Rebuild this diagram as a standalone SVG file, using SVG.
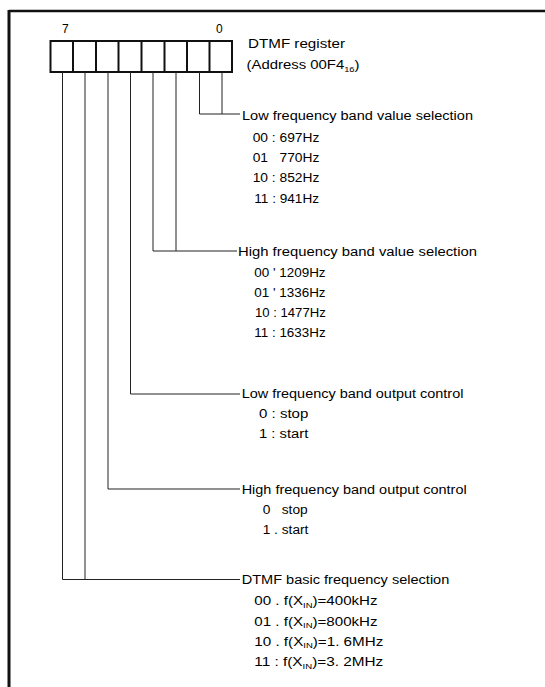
<svg xmlns="http://www.w3.org/2000/svg" width="545" height="687" viewBox="0 0 545 687">
<style>
text{font-family:"Liberation Sans",Arial,sans-serif;font-size:12px;fill:#000;white-space:pre}
.w{stroke:#222;stroke-width:1;fill:none}
.reg{stroke:#111;stroke-width:2;fill:#fff}
.sub{font-size:7.5px}
</style>
<rect width="545" height="687" fill="#fff"/>
<g id="frame">
<line x1="9" y1="11" x2="545" y2="11" stroke="#111" stroke-width="2.5"/>
<line x1="9" y1="10" x2="9" y2="687" stroke="#111" stroke-width="3"/>
</g>
<g id="register">
<rect class="reg" x="50.5" y="41" width="181.5" height="31"/>
<path class="reg" d="M73 41V72M96 41V72M118.5 41V72M141.5 41V72M164.5 41V72M187 41V72M209.5 41V72"/>
<text x="62" y="32.5">7</text>
<text x="216" y="32.5">0</text>
<text x="248" y="47.5" textLength="97" lengthAdjust="spacingAndGlyphs">DTMF register</text>
<text x="246.5" y="68.5" textLength="113" lengthAdjust="spacingAndGlyphs">(Address 00F4<tspan class="sub" dy="3">16</tspan><tspan dy="-3">)</tspan></text>
</g>
<g id="connectors">
<path class="w" d="M222 72V114M199.5 72V114H240"/>
<path class="w" d="M176 72V251M153 72V251H237"/>
<path class="w" d="M130.5 72V394H240"/>
<path class="w" d="M108 72V489H240"/>
<path class="w" d="M85 72V579.5M62.5 72V579.5H240"/>
</g>
<g id="low-freq-value">
<text x="242" y="120" textLength="231" lengthAdjust="spacingAndGlyphs">Low frequency band value selection</text>
<text x="252.7" y="141.5" textLength="66.7" lengthAdjust="spacingAndGlyphs">00 : 697Hz</text>
<text x="252.7" y="162" textLength="66.7" lengthAdjust="spacingAndGlyphs">01   770Hz</text>
<text x="252.7" y="182.3" textLength="66.7" lengthAdjust="spacingAndGlyphs">10 : 852Hz</text>
<text x="254.3" y="202.7" textLength="64.7" lengthAdjust="spacingAndGlyphs">11 : 941Hz</text>
</g>
<g id="high-freq-value">
<text x="238" y="255.5" textLength="239" lengthAdjust="spacingAndGlyphs">High frequency band value selection</text>
<text x="254.3" y="277.3" textLength="71.3" lengthAdjust="spacingAndGlyphs">00 ' 1209Hz</text>
<text x="254.3" y="297.3" textLength="71.3" lengthAdjust="spacingAndGlyphs">01 ' 1336Hz</text>
<text x="255" y="316.7" textLength="70.7" lengthAdjust="spacingAndGlyphs">10 : 1477Hz</text>
<text x="254.3" y="337.3" textLength="71.3" lengthAdjust="spacingAndGlyphs">11 : 1633Hz</text>
</g>
<g id="low-freq-output">
<text x="241.7" y="398" textLength="221.7" lengthAdjust="spacingAndGlyphs">Low frequency band output control</text>
<text x="259" y="417.5" textLength="49.3" lengthAdjust="spacingAndGlyphs">0 : stop</text>
<text x="259" y="437.5" textLength="49.3" lengthAdjust="spacingAndGlyphs">1 : start</text>
</g>
<g id="high-freq-output">
<text x="241.7" y="493.5" textLength="225" lengthAdjust="spacingAndGlyphs">High frequency band output control</text>
<text x="262.7" y="514" textLength="45" lengthAdjust="spacingAndGlyphs">0   stop</text>
<text x="262.7" y="533.5" textLength="45.7" lengthAdjust="spacingAndGlyphs">1 . start</text>
</g>
<g id="basic-freq">
<text x="241.7" y="583.5" textLength="207.6" lengthAdjust="spacingAndGlyphs">DTMF basic frequency selection</text>
<text x="254.3" y="605" textLength="123.3" lengthAdjust="spacingAndGlyphs">00 . f(X<tspan class="sub" dy="2.5">IN</tspan><tspan dy="-2.5">)=400kHz</tspan></text>
<text x="254.3" y="625.5" textLength="123.3" lengthAdjust="spacingAndGlyphs">01 . f(X<tspan class="sub" dy="2.5">IN</tspan><tspan dy="-2.5">)=800kHz</tspan></text>
<text x="254.3" y="645.7" textLength="129" lengthAdjust="spacingAndGlyphs">10 . f(X<tspan class="sub" dy="2.5">IN</tspan><tspan dy="-2.5">)=1. 6MHz</tspan></text>
<text x="254.3" y="666" textLength="129" lengthAdjust="spacingAndGlyphs">11 : f(X<tspan class="sub" dy="2.5">IN</tspan><tspan dy="-2.5">)=3. 2MHz</tspan></text>
</g>
</svg>
